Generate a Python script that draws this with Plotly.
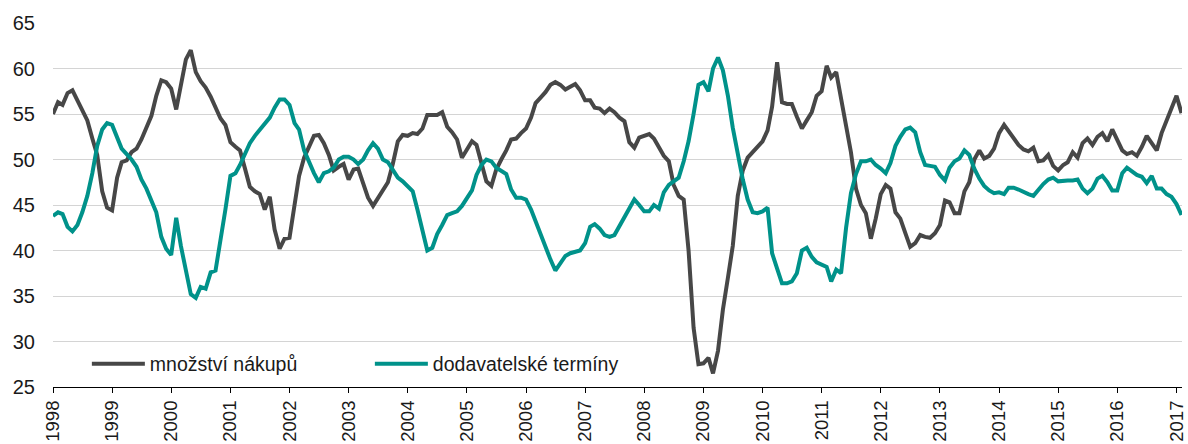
import plotly.graph_objects as go
import pandas as pd

years = list(range(1998, 2018))
year_labels = [str(y) for y in years]
start_month = "1998-01-01"

nakupy = [
    55.0, 56.3, 56.0, 57.3, 57.6, 56.5, 55.2, 54.3, 52.3, 50.5, 46.5, 44.7,
    44.4, 48.0, 49.7, 49.9, 50.8, 51.2, 52.2, 53.6, 54.8, 57.0, 58.7, 58.5,
    57.8, 55.5, 58.2, 61.0, 62.0, 59.6, 58.6, 57.9, 56.9, 55.6, 54.5, 53.8,
    51.9, 51.4, 51.0, 49.0, 47.0, 46.5, 46.2, 44.5, 45.9, 42.3, 40.2, 41.3,
    41.4, 45.0, 48.2, 50.2, 51.3, 52.6, 52.7, 51.8, 50.5, 48.8, 49.2, 49.5,
    47.8, 48.9, 49.0, 47.3, 45.8, 44.9, 45.7, 46.6, 47.5, 49.5, 52.0, 52.7,
    52.6, 52.9, 52.8, 53.4, 54.9, 54.9, 54.9, 55.2, 53.6, 53.0, 52.2, 50.2,
    51.2, 52.0, 51.6, 49.5, 47.6, 47.1, 48.9, 50.0, 51.0, 52.2, 52.3, 52.9,
    53.4, 54.6, 56.2, 56.8, 57.4, 58.2, 58.5, 58.2, 57.7, 58.0, 58.3, 57.6,
    56.5, 56.5, 55.7, 55.6, 55.1, 55.6, 55.2, 54.6, 54.2, 51.9, 51.3, 52.4,
    52.6, 52.8, 52.3, 51.3, 50.4, 49.8, 47.2, 46.0, 45.6, 40.0, 31.5, 27.5,
    27.6, 28.2, 26.5, 29.0, 33.5, 37.0, 40.5, 46.0, 48.8, 50.2, 50.8, 51.4,
    52.0, 53.2, 55.8, 60.7, 56.3, 56.1, 56.1, 54.7, 53.4, 54.3, 55.2, 57.0,
    57.5, 60.3, 59.0, 59.6, 56.5, 53.8, 50.8, 46.8, 45.0, 44.1, 41.3, 43.5,
    46.2, 47.2, 46.8, 44.2, 43.5, 41.9, 40.4, 40.8, 41.7, 41.5, 41.4, 41.9,
    42.8, 45.5, 45.3, 44.1, 44.1, 46.5, 47.5, 50.0, 51.0, 50.1, 50.4, 51.2,
    52.9, 53.8, 53.1, 52.5, 51.6, 51.1, 50.9, 51.3, 49.8, 49.9, 50.5, 49.3,
    48.8, 49.4, 49.7, 50.8, 50.2, 51.8, 52.3, 51.6, 52.5, 52.9, 52.0, 53.3,
    52.1, 51.0, 50.6, 50.8, 50.4, 51.4, 52.6, 51.8, 51.0, 52.9, 54.2, 55.5,
    57.0, 55.1,
]

terminy = [
    43.8, 44.2, 44.0, 42.6, 42.1, 42.8, 44.2, 46.0, 48.5, 51.5, 53.3, 54.0,
    53.8, 52.5, 51.2, 50.6, 50.0, 49.2, 47.8, 46.8, 45.5, 44.2, 41.5, 40.2,
    39.5, 43.6, 40.5, 37.5, 35.2, 34.8, 36.0, 35.8, 37.6, 37.8, 41.0, 44.5,
    48.2, 48.5, 49.4, 50.6, 51.8, 52.6, 53.3, 54.0, 54.6, 55.7, 56.6, 56.6,
    56.0, 54.0, 53.3, 51.0, 49.7, 48.5, 47.5, 48.5, 48.7, 49.1, 50.0, 50.3,
    50.3, 50.0, 49.5, 50.0, 51.0, 51.8, 51.2, 50.0, 49.7, 48.8, 48.0, 47.6,
    47.0, 46.5, 44.5, 42.0, 40.0, 40.3, 41.8, 42.8, 43.9, 44.1, 44.3, 44.9,
    45.7, 46.6, 48.3, 49.4, 50.0, 49.8, 49.1, 48.8, 48.4, 46.7, 45.8, 45.8,
    45.6, 44.5, 43.2, 41.8, 40.2, 39.0, 37.8, 38.6, 39.4, 39.7, 39.9, 40.0,
    40.8, 42.6, 42.9, 42.4, 41.7, 41.5, 41.7, 42.7, 43.6, 44.6, 45.6, 45.0,
    44.3, 44.3, 45.0, 44.6, 46.4, 47.2, 47.6, 48.0, 49.8, 52.0, 55.0, 58.2,
    58.5, 57.5, 60.0, 61.2, 59.8, 57.0, 53.5, 50.5, 47.8, 45.6, 44.2, 44.1,
    44.3, 44.7, 39.7, 38.0, 36.4, 36.4, 36.6, 37.5, 40.0, 40.3, 39.3, 38.7,
    38.5, 38.2, 36.6, 37.9, 37.5, 42.5, 46.3, 48.4, 49.8, 49.8, 50.0, 49.4,
    49.0, 48.5, 49.6, 51.5, 52.5, 53.3, 53.5, 53.0, 50.8, 49.4, 49.3, 49.2,
    48.3, 47.7, 49.1, 49.8, 50.1, 51.0, 50.5, 49.0, 47.9, 47.1, 46.6, 46.3,
    46.4, 46.2, 46.9, 46.9, 46.7, 46.4, 46.2, 46.0, 46.7, 47.3, 47.8, 48.0,
    47.6, 47.7, 47.7, 47.7, 47.8, 46.8, 46.3, 46.8, 47.9, 48.2, 47.5, 46.6,
    46.6, 48.5, 49.1, 48.7, 48.3, 48.1, 47.4, 48.2, 46.8, 46.8, 46.2, 45.9,
    45.1, 43.9,
]

dates = pd.date_range(start_month, periods=len(nakupy), freq="MS")

fig = go.Figure()
fig.add_trace(go.Scatter(
    x=dates, y=nakupy, mode="lines", name="množství nákupů",
    line=dict(color="#474747", width=4)))
fig.add_trace(go.Scatter(
    x=dates, y=terminy, mode="lines", name="dodavatelské termíny",
    line=dict(color="#00928a", width=4)))

fig.update_layout(
    width=1188, height=444,
    margin=dict(l=53, r=6, t=23, b=57),
    plot_bgcolor="white", paper_bgcolor="white",
    font=dict(family="Liberation Sans, Arial, sans-serif", size=20, color="#1a1a1a"),
    showlegend=True,
    legend=dict(
        orientation="h", x=0.03, y=0.063, xanchor="left", yanchor="middle",
        bgcolor="rgba(0,0,0,0)", font=dict(size=19.5), itemwidth=53,
        entrywidth=215,
    ),
)
fig.update_xaxes(
    type="date", range=["1998-01-01", "2017-02-04"],
    tickvals=[f"{y}-01-01" for y in years], ticktext=year_labels,
    tickangle=-90, ticks="outside", ticklen=5, tickcolor="black", tickwidth=1,
    tickfont=dict(size=18.5),
    showline=True, linecolor="black", linewidth=1.3,
    showgrid=False, zeroline=False, automargin=False,
)
fig.update_yaxes(
    range=[25, 65], dtick=5, tick0=25,
    showgrid=True, gridcolor="#d4d4d4", gridwidth=1,
    showline=False, ticks="", zeroline=False, ticklabelstandoff=17,
    automargin=False,
)

fig.write_html("out.html", config={"displayModeBar": False},
               post_script="document.body.style.margin='0';")
